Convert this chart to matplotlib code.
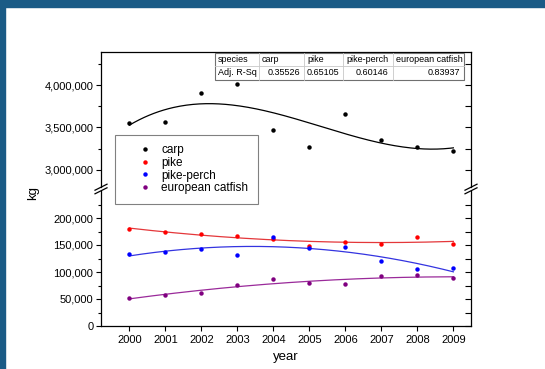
import numpy as np
import matplotlib
matplotlib.use('Agg')
import matplotlib.pyplot as plt
from matplotlib.lines import Line2D
from matplotlib.patches import Rectangle
from matplotlib.ticker import MultipleLocator, FixedLocator, FuncFormatter

plt.rcParams['font.family'] = ['Liberation Sans', 'DejaVu Sans']

# data
years = np.arange(2000, 2010)
carp = [3551000, 3559000, 3909000, 4012000, 3464000, 3267000, 3654000, 3350000, 3264000, 3220000]
pike = [179000, 174600, 171000, 166700, 161100, 148100, 155000, 151300, 165400, 152400]
pike_perch = [132700, 137600, 142600, 131500, 164200, 143800, 145700, 119800, 106100, 107400]
catfish = [52400, 56800, 61100, 75300, 87000, 80200, 78300, 92000, 93800, 89400]

species = ['carp', 'pike', 'pike-perch', 'european catfish']
adj_r2 = ['0.35526', '0.65105', '0.60146', '0.83937']

W, H = 545, 369
fig = plt.figure(figsize=(W / 100, H / 100), dpi=100)


def fx(x):
    return x / W


def fy(y):
    return 1 - y / H


# dark blue frame on top and left edge
fig.patches.append(Rectangle((0, fy(7)), 1, 7 / H, transform=fig.transFigure,
                             color='#1a5b86', zorder=0))
fig.patches.append(Rectangle((0, 0), fx(5), 1, transform=fig.transFigure,
                             color='#1a5b86', zorder=0))

left, width = fx(101), 370 / W
hgt = 135 / H
ax_top = fig.add_axes([left, fy(186.5), width, hgt])
ax_bot = fig.add_axes([left, fy(326), width, hgt])

xs = np.linspace(0, 9, 200)


def fit(ax, vals, deg, mcol, lcol):
    c = np.polyfit(years - 2000, vals, deg)
    ax.plot(xs + 2000, np.polyval(c, xs), color=lcol, lw=0.9)
    ax.plot(years, vals, 'o', color=mcol, ms=3.2, mec='none')


fit(ax_top, carp, 3, 'black', 'black')
fit(ax_bot, pike, 2, '#ff0000', '#e4373a')
fit(ax_bot, pike_perch, 2, '#0000ff', '#3434e0')
fit(ax_bot, catfish, 2, '#800080', '#9a2a9a')

fmt = FuncFormatter(lambda v, p: '{:,.0f}'.format(v))
for ax in (ax_top, ax_bot):
    ax.set_xlim(1999.21, 2009.49)
    ax.yaxis.set_major_formatter(fmt)
    ax.tick_params(axis='y', which='major', direction='out', length=3.5, width=0.8,
                   labelsize=8, pad=2, right=False)
    ax.tick_params(axis='y', which='minor', direction='out', length=2, width=0.8, right=False)
    ax.yaxis.set_ticks_position('left')
    for s in ax.spines.values():
        s.set_linewidth(0.9)
    # inward ticks on the right spine
    sec = ax.secondary_yaxis('right')
    sec.tick_params(axis='y', which='major', direction='in', length=4, width=0.8, labelright=False)
    sec.tick_params(axis='y', which='minor', direction='in', length=4, width=0.8)
    sec.spines['right'].set_visible(False)
    ax.sec = sec

ax_top.set_ylim(2800000, 4400000)
ax_top.yaxis.set_major_locator(MultipleLocator(500000))
ax_top.yaxis.set_minor_locator(MultipleLocator(250000))
ax_top.sec.yaxis.set_major_locator(MultipleLocator(250000))
ax_top.sec.yaxis.set_minor_locator(MultipleLocator(250000))
ax_top.spines['bottom'].set_visible(False)
ax_top.tick_params(axis='x', bottom=False, labelbottom=False)

ax_bot.set_ylim(0, 250000)
ax_bot.yaxis.set_major_locator(FixedLocator([0, 50000, 100000, 150000, 200000]))
ax_bot.yaxis.set_minor_locator(FixedLocator([25000, 75000, 125000, 175000, 225000]))
ax_bot.sec.yaxis.set_major_locator(FixedLocator(np.arange(0, 250000, 25000)))
ax_bot.sec.yaxis.set_minor_locator(FixedLocator([]))
ax_bot.spines['top'].set_visible(False)
ax_bot.set_xticks(years)
ax_bot.set_xticklabels([str(y) for y in years])
ax_bot.tick_params(axis='x', direction='out', length=3.5, width=0.8, labelsize=8, pad=3, top=False)
ax_bot.set_xlabel('year', fontsize=9.5, labelpad=4)

fig.text(fx(33), fy(193), 'kg', rotation=90, fontsize=9.5, ha='center', va='center')

# break marks on both spines
for cx in (101, 471):
    for dy in (-1.8, 1.8):
        fig.add_artist(Line2D([fx(cx - 6), fx(cx + 6)], [fy(189 + dy + 3), fy(189 + dy - 3)],
                              color='black', lw=0.9, transform=fig.transFigure))

# legend spanning the break
handles = [Line2D([], [], ls='none', marker='o', ms=3.2, mec='none', color=c)
           for c in ('black', '#ff0000', '#0000ff', '#800080')]
fig.legend(handles, species, loc='upper left', bbox_to_anchor=(fx(115), fy(135)),
           bbox_transform=fig.transFigure, borderaxespad=0, fontsize=8.5,
           frameon=True, fancybox=False, edgecolor='#808080', framealpha=1,
           borderpad=0.8, handlelength=3.5, handletextpad=-0.39, labelspacing=0.05)
fig.legends[0].get_frame().set_linewidth(0.8)

# fit statistics table
col_x = [215, 259, 304.3, 343.3, 392.7, 464.3]
row_y = [52.5, 66, 79.5]
fig.patches.append(Rectangle((fx(col_x[0] + 1), fy(row_y[-1] + 1)), fx(col_x[-1] - col_x[0]),
                             (row_y[-1] - row_y[0]) / H, transform=fig.transFigure,
                             facecolor='#a8a8a8', edgecolor='none', zorder=5))
fig.patches.append(Rectangle((fx(col_x[0]), fy(row_y[-1])), fx(col_x[-1] - col_x[0]),
                             (row_y[-1] - row_y[0]) / H, transform=fig.transFigure,
                             facecolor='white', edgecolor='#707070', lw=0.8, zorder=6))
for x in col_x[1:-1]:
    fig.add_artist(Line2D([fx(x), fx(x)], [fy(row_y[0]), fy(row_y[-1])], color='#c8c8c8',
                          lw=0.6, transform=fig.transFigure, zorder=7))
fig.add_artist(Line2D([fx(col_x[0]), fx(col_x[-1])], [fy(row_y[1]), fy(row_y[1])], color='#c8c8c8',
                      lw=0.6, transform=fig.transFigure, zorder=7))

header = ['species'] + species
row2 = ['Adj. R-Sq'] + adj_r2
ymid1 = (row_y[0] + row_y[1]) / 2
ymid2 = (row_y[1] + row_y[2]) / 2
for i, t in enumerate(header):
    fig.text(fx(col_x[i] + 3), fy(ymid1), t, fontsize=6.5, ha='left', va='center', zorder=8)
fig.text(fx(col_x[0] + 3), fy(ymid2), row2[0], fontsize=6.5, ha='left', va='center', zorder=8)
for i, t in enumerate(row2[1:], start=1):
    fig.text(fx(col_x[i + 1] - 4), fy(ymid2), t, fontsize=6.5, ha='right', va='center', zorder=8)

fig.savefig('out.png', dpi=100)
